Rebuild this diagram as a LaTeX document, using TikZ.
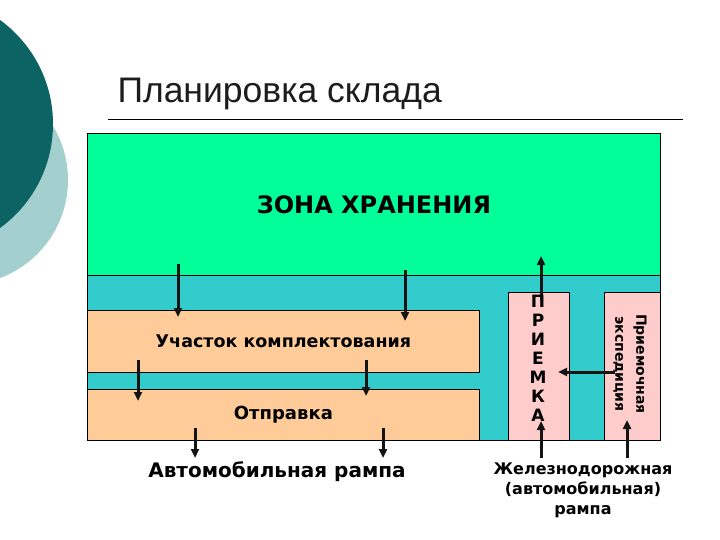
\documentclass[tikz,border=0pt]{standalone}
\usepackage{fontspec}
\setmainfont{Liberation Sans}
\newfontfamily\verd{DejaVu Sans}
\usetikzlibrary{arrows.meta}

\definecolor{darkteal}{HTML}{0B6363}
\definecolor{paleteal}{HTML}{A3CFCF}
\definecolor{storegreen}{HTML}{00FF99}
\definecolor{aisleteal}{HTML}{33CCCC}
\definecolor{peach}{HTML}{FFCC99}
\definecolor{pinkbox}{HTML}{FFCCCC}
\definecolor{titleink}{HTML}{1C1C1C}
\definecolor{arrowink}{HTML}{141414}

\begin{document}
\begin{tikzpicture}[x=1pt,y=-1pt,
    zone/.style={draw=black, line width=0.8pt, inner sep=0pt, anchor=north west},
    flow/.style={-{Triangle[length=9pt,width=8pt]}, line width=3pt, draw=arrowink},
    lbl/.style={font=\verd\bfseries\fontsize{17.5}{19}\selectfont}]
    \useasboundingbox (0,0) rectangle (720,540);
    \clip (0,0) rectangle (720,540);
    \fill[white] (0,0) rectangle (720,540);

    % Slide decoration
    \fill[paleteal] (-36.6,180) circle (104.6);
    \fill[darkteal] (-75.5,124) circle (128.5);

    % Title
    \node[anchor=base west, text=titleink, font=\fontsize{35.5}{40}\selectfont] (title) at (114,103) {Планировка склада};
    \draw[line width=1pt] (108,120) -- (683,120);

    % Zones
    \node[zone, fill=aisleteal, minimum width=573pt, minimum height=165pt] (aisle) at (87,275) {};
    \node[zone, fill=storegreen, minimum width=573pt, minimum height=142pt,
          font=\verd\bfseries\fontsize{24}{28}\selectfont] (store) at (87,133) {ЗОНА ХРАНЕНИЯ};
    \node[zone, fill=peach, minimum width=392pt, minimum height=62pt, lbl] (pick) at (87,310) {Участок комплектования};
    \node[zone, fill=peach, minimum width=392pt, minimum height=51pt, lbl,
          font=\verd\bfseries\fontsize{18}{20}\selectfont] (ship) at (87,389) {Отправка};
    \node[zone, fill=pinkbox, minimum width=61pt, minimum height=148pt] (recv) at (508,292) {};
    \node[zone, fill=pinkbox, minimum width=56pt, minimum height=148pt] (exped) at (604,292) {};

    % Arrow ends
    \coordinate (s1) at (178,264);  \coordinate (e1) at (178,317);
    \coordinate (s2) at (405,270);  \coordinate (e2) at (405,321);
    \coordinate (s3) at (138,360);  \coordinate (e3) at (138,401);
    \coordinate (s4) at (366,360);  \coordinate (e4) at (366,396);
    \coordinate (s5) at (195,428);  \coordinate (e5) at (195,458);
    \coordinate (s6) at (383,428);  \coordinate (e6) at (383,458);
    \coordinate (s7) at (541,300);  \coordinate (e7) at (541,256);
    \coordinate (s8) at (541,458);  \coordinate (e8) at (541,421);
    \coordinate (s9) at (627,458);  \coordinate (e9) at (627,420);
    \coordinate (s10) at (615,372); \coordinate (e10) at (558,372);

    \draw[flow] (s1) -- (e1);
    \draw[flow] (s2) -- (e2);
    \draw[flow] (s3) -- (e3);
    \draw[flow] (s4) -- (e4);
    \draw[flow] (s5) -- (e5);
    \draw[flow] (s6) -- (e6);
    \draw[flow] (s7) -- (e7);
    \draw[flow] (s8) -- (e8);
    \draw[flow] (s9) -- (e9);
    \draw[flow] (s10) -- (e10);

    % Labels
    \node[lbl, align=center, font=\verd\bfseries\fontsize{17}{19}\selectfont] (recvtext) at (538,358) {П\\Р\\И\\Е\\М\\К\\А};
    \node[lbl, align=center, rotate=-90, font=\verd\bfseries\fontsize{14}{21}\selectfont] (expedtext) at (630,364) {Приемочная\\экспедиция};
    \node[lbl, font=\verd\bfseries\fontsize{20}{23}\selectfont] (autoramp) at (277,472) {Автомобильная рампа};
    \node[lbl, align=center, font=\verd\bfseries\fontsize{16}{20}\selectfont] (railramp) at (583,490) {Железнодорожная\\(автомобильная)\\рампа};
\end{tikzpicture}
\end{document}
